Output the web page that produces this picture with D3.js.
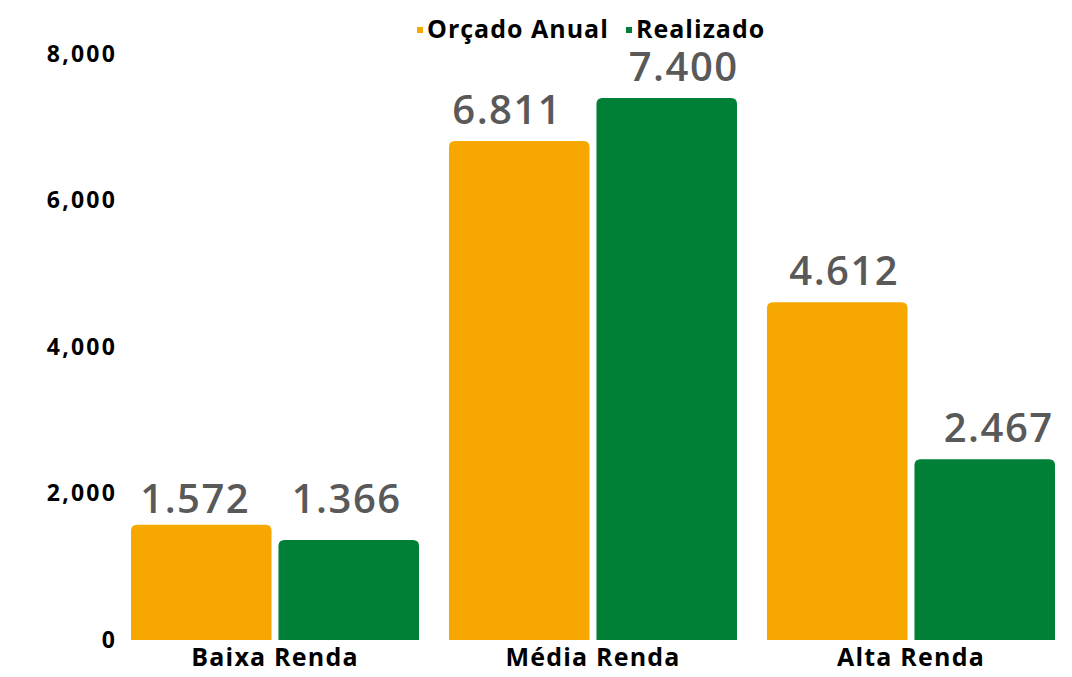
<!DOCTYPE html>
<html lang="pt">
<head>
<meta charset="utf-8">
<title>Orçado x Realizado</title>
<script src="https://cdn.jsdelivr.net/npm/d3@7"></script>
<style>
  body { margin: 0; background: #fff; }
  text { font-family: "Open Sans", sans-serif; }
</style>
</head>
<body>
<script>
// dados
var categorias = ["Baixa Renda", "Média Renda", "Alta Renda"];
var series = ["Orçado Anual", "Realizado"];
var orcado = [1572, 6811, 4612];
var realizado = [1366, 7400, 2467];
var rotulosOrcado = ["1.572", "6.811", "4.612"];
var rotulosRealizado = ["1.366", "7.400", "2.467"];
var ticks = [0, 2000, 4000, 6000, 8000];
var cores = ["#F7A800", "#008037"];

// deslocamento manual dos rótulos (como no original)
var desloc = [[-6, 5], [-2, -10], [-12, 0], [17, 0], [7, 0], [14, 0]];

var width = 1072, height = 677;
var svg = d3.select("body").append("svg")
            .attr("width", width)
            .attr("height", height);

var y = d3.scaleLinear().domain([0, 8000]).range([640, 54]);
var x0 = d3.scaleBand().domain(categorias).range([115.1, 1070.9]).paddingInner(0.0943).paddingOuter(0.05);
var x1 = d3.scaleBand().domain(series).range([0, x0.bandwidth()]).paddingInner(0.047);

// eixo y (só rótulos)
var yAxis = svg.append("g")
  .attr("transform", "translate(117,0)")
  .call(d3.axisLeft(y).tickValues(ticks).tickFormat(d3.format(",")).tickSize(0).tickPadding(0));
yAxis.select(".domain").remove();
yAxis.selectAll("text")
  .attr("font-family", "Open Sans").attr("font-weight", 700)
  .attr("font-size", 23).attr("letter-spacing", 2.2).attr("fill", "#000");

// eixo x
var xAxis = svg.append("g")
  .attr("transform", "translate(0,644)")
  .call(d3.axisBottom(x0).tickSize(0).tickPadding(4));
xAxis.select(".domain").remove();
xAxis.selectAll("text")
  .attr("font-family", "Open Sans").attr("font-weight", 700)
  .attr("font-size", 25).attr("letter-spacing", 1.2).attr("fill", "#000");

// barras com cantos superiores arredondados
function barra(x, w, yTop, yBase, r) {
  return "M" + x + "," + yBase +
    "V" + (yTop + r) +
    "Q" + x + "," + yTop + " " + (x + r) + "," + yTop +
    "H" + (x + w - r) +
    "Q" + (x + w) + "," + yTop + " " + (x + w) + "," + (yTop + r) +
    "V" + yBase + "Z";
}

var dados = categorias.map(function(c, i) {
  return [
    {cat: c, serie: series[0], v: orcado[i], rot: rotulosOrcado[i], cor: cores[0], k: i * 2},
    {cat: c, serie: series[1], v: realizado[i], rot: rotulosRealizado[i], cor: cores[1], k: i * 2 + 1}
  ];
});

var grupos = svg.selectAll("g.grupo")
  .data(dados).enter().append("g")
  .attr("class", "grupo")
  .attr("transform", function(d) { return "translate(" + x0(d[0].cat) + ",0)"; });

grupos.selectAll("path")
  .data(function(d) { return d; }).enter().append("path")
  .attr("fill", function(d) { return d.cor; })
  .attr("d", function(d) { return barra(x1(d.serie), x1.bandwidth(), y(d.v), y(0), 6); });

grupos.selectAll("text")
  .data(function(d) { return d; }).enter().append("text")
  .attr("x", function(d) { return x1(d.serie) + x1.bandwidth() / 2 + desloc[d.k][0]; })
  .attr("y", function(d) { return y(d.v) - 17 + desloc[d.k][1]; })
  .attr("text-anchor", "middle")
  .attr("font-weight", 600)
  .attr("font-size", 40)
  .attr("letter-spacing", 1.5)
  .attr("fill", "#595959")
  .text(function(d) { return d.rot; });

// legenda
var legX = [417, 626];
var leg = svg.selectAll("g.leg")
  .data(series).enter().append("g")
  .attr("class", "leg")
  .attr("transform", function(d, i) { return "translate(" + legX[i] + ",0)"; });
leg.append("rect")
  .attr("x", 0).attr("y", 27).attr("width", 6).attr("height", 6)
  .attr("fill", function(d, i) { return cores[i]; });
leg.append("text")
  .attr("x", 10).attr("y", 38)
  .attr("font-weight", 700).attr("font-size", 25).attr("letter-spacing", 1)
  .attr("fill", "#000")
  .text(function(d) { return d; });
</script>
</body>
</html>
